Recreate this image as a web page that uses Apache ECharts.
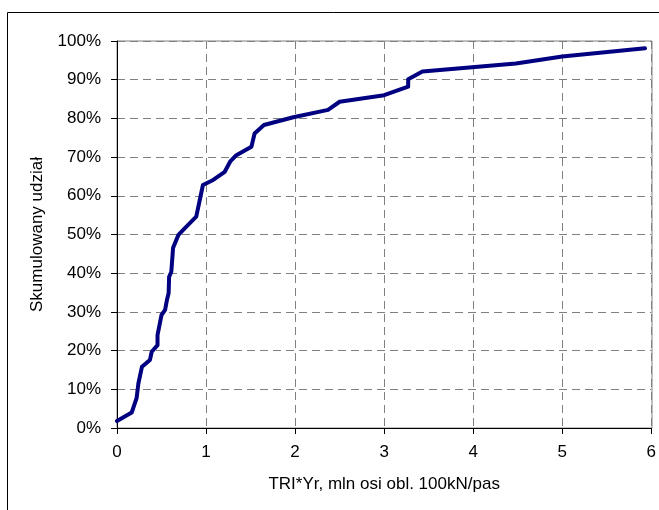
<!DOCTYPE html>
<html lang="pl">
<head>
<meta charset="UTF-8">
<title>Skumulowany udział</title>
<script src="https://cdn.jsdelivr.net/npm/echarts@6/dist/echarts.min.js"></script>
</head>
<body style="margin:0;background:#fff">
<div id="container" style="width:659px;height:510px"></div>
<script>
// TRI*Yr values (mln osi obl. 100kN/pas)
var triYr = [0, 0.165, 0.22, 0.24, 0.28, 0.37, 0.39, 0.455, 0.455, 0.5, 0.54, 0.56, 0.58, 0.585, 0.61, 0.63, 0.69, 0.76, 0.89, 0.965, 1.08, 1.21, 1.27, 1.34, 1.51, 1.545, 1.65, 1.98, 2.37, 2.5, 3.0, 3.27, 3.27, 3.43, 4.48, 5.0, 5.93];
// cumulative share, %
var share = [1.8, 4, 7.7, 11.5, 15.8, 17.6, 19.7, 21.4, 24, 29.2, 30.5, 33, 34.9, 39, 40.4, 46.6, 49.9, 51.6, 54.6, 62.8, 64.1, 66.2, 68.8, 70.5, 72.7, 76.1, 78.3, 80.3, 82.2, 84.3, 86, 88.2, 90.1, 92.1, 94.2, 96, 98.1];

var points = triYr.map(function (x, i) { return [x, share[i]]; });

var myCharts = echarts.init(document.querySelector('#container'));
var font = 'Liberation Sans, Arial, sans-serif';
myCharts.setOption({
    backgroundColor: '#fff',
    animation: false,
    // ramka wykresu
    graphic: [{
        type: 'rect',
        shape: { x: 7.5, y: 12.5, width: 700, height: 600 },
        style: { fill: 'none', stroke: '#000', lineWidth: 1 },
        z: -1
    }, {
        type: 'rect',
        shape: { x: 117, y: 41, width: 535, height: 387 },
        style: { fill: 'none', stroke: '#808080', lineWidth: 1 },
        z: 0
    }],
    grid: { left: 117, top: 41, right: 7, bottom: 82 },
    xAxis: {
        type: 'value',
        min: 0, max: 6, interval: 1,
        name: 'TRI*Yr, mln osi obl. 100kN/pas',
        nameLocation: 'middle',
        nameGap: 48,
        nameTextStyle: { color: '#000', fontSize: 17, fontFamily: font },
        axisLine: { show: true, onZero: false, lineStyle: { color: '#000', width: 1 } },
        axisTick: { show: true, inside: false, length: 6, lineStyle: { color: '#000' } },
        axisLabel: { color: '#000', fontSize: 17, fontFamily: font, margin: 16 },
        splitLine: { show: true, lineStyle: { color: '#808080', type: [8, 5], width: 1 } }
    },
    yAxis: {
        type: 'value',
        min: 0, max: 100, interval: 10,
        name: 'Skumulowany udział',
        nameLocation: 'middle',
        nameGap: 71,
        nameTextStyle: { color: '#000', fontSize: 17, fontFamily: font },
        axisLine: { show: true, lineStyle: { color: '#000', width: 1 } },
        axisTick: { show: true, inside: false, length: 6, lineStyle: { color: '#000' } },
        axisLabel: { color: '#000', fontSize: 17, fontFamily: font, margin: 16, formatter: '{value}%' },
        splitLine: { show: true, lineStyle: { color: '#808080', type: [8, 5], width: 1 } }
    },
    series: [{
        type: 'line',
        data: points,
        showSymbol: false,
        lineStyle: { color: '#000080', width: 4, join: 'round', cap: 'round' },
        z: 5
    }]
});
</script>
</body>
</html>
